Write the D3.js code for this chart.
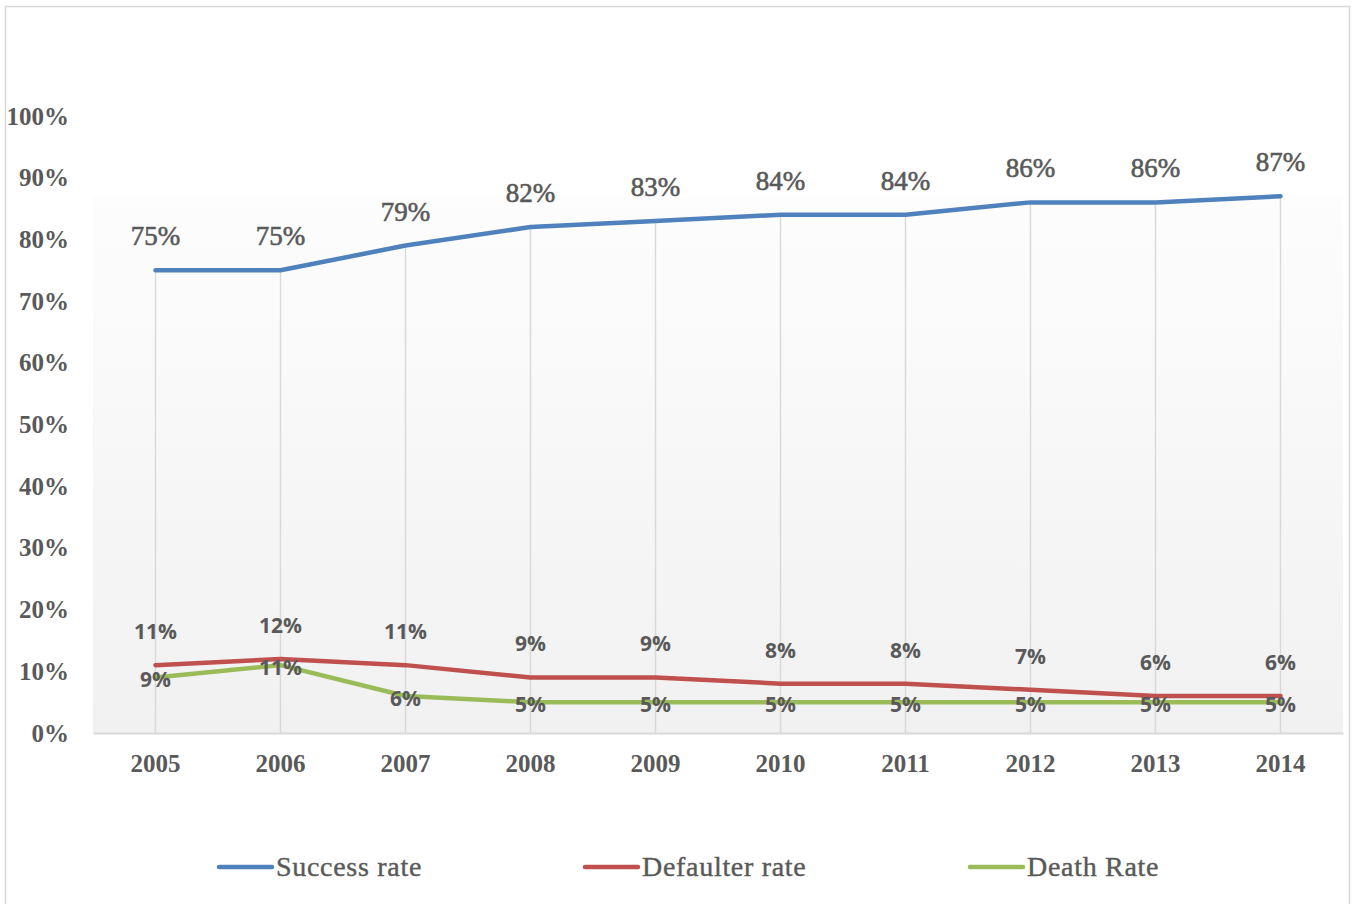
<!DOCTYPE html>
<html>
<head>
<meta charset="utf-8">
<script src="https://cdn.jsdelivr.net/npm/d3@7"></script>
<style>
  html, body { margin: 0; padding: 0; background: #fff; }
  svg { display: block; }
</style>
</head>
<body>
<svg id="chart" width="1353" height="904"></svg>
<script>
// Treatment outcome rates by year
const years = ["2005", "2006", "2007", "2008", "2009", "2010", "2011", "2012", "2013", "2014"];
const successRate = [75, 75, 79, 82, 83, 84, 84, 86, 86, 87];
const defaulterRate = [11, 12, 11, 9, 9, 8, 8, 7, 6, 6];
const deathRate = [9, 11, 6, 5, 5, 5, 5, 5, 5, 5];
const yTicks = [0, 10, 20, 30, 40, 50, 60, 70, 80, 90, 100];

const seriesList = [
  { name: "Success rate", values: successRate, color: "#4f81bd" },
  { name: "Defaulter rate", values: defaulterRate, color: "#c0504d" },
  { name: "Death Rate", values: deathRate, color: "#9bbb59" }
];

const svg = d3.select("#chart");
const textColor = "#595959";
const serif = "'Liberation Serif', 'Times New Roman', serif";
const sans = "'Open Sans', 'DejaVu Sans', sans-serif";

const plot = { left: 93, right: 1343, top: 116, bottom: 733 };

const x = d3.scaleBand().domain(years).range([plot.left, plot.right]);
const y = d3.scaleLinear().domain([0, 100]).range([plot.bottom, plot.top]);
const cx = d => x(d) + x.bandwidth() / 2;

// Outer chart frame
svg.append("rect")
  .attr("x", 5.5).attr("y", 6.5)
  .attr("width", 1344).attr("height", 910)
  .attr("fill", "#fff").attr("stroke", "#d9d9d9").attr("stroke-width", 1.5);

// Plot area with a soft vertical gradient
const defs = svg.append("defs");
const grad = defs.append("linearGradient").attr("id", "plotFill")
  .attr("x1", 0).attr("y1", 0).attr("x2", 0).attr("y2", 1);
grad.append("stop").attr("offset", "0%").attr("stop-color", "#fdfdfd");
grad.append("stop").attr("offset", "100%").attr("stop-color", "#f1f1f1");

svg.append("rect")
  .attr("x", plot.left).attr("y", 197)
  .attr("width", plot.right - plot.left).attr("height", plot.bottom - 197)
  .attr("fill", "url(#plotFill)");

// Drop lines from the top series down to the axis
svg.append("g").selectAll("line")
  .data(years)
  .join("line")
  .attr("x1", d => cx(d)).attr("x2", d => cx(d))
  .attr("y1", (d, i) => y(successRate[i]))
  .attr("y2", plot.bottom)
  .attr("stroke", "#d9d9d9").attr("stroke-width", 1.5);

// Category axis
const xAxis = svg.append("g")
  .attr("transform", `translate(0,${plot.bottom})`)
  .call(d3.axisBottom(x).tickSize(0).tickPadding(21));
xAxis.select(".domain").attr("stroke", "#d9d9d9").attr("stroke-width", 2);
xAxis.selectAll("text")
  .attr("fill", textColor)
  .style("font-family", serif).style("font-weight", "bold")
  .style("font-size", "25px");

// Value axis (labels only)
const yAxis = svg.append("g")
  .attr("transform", `translate(${plot.left},0)`)
  .call(d3.axisLeft(y).tickValues(yTicks).tickFormat(d => d + "%").tickSize(0).tickPadding(24));
yAxis.select(".domain").remove();
yAxis.selectAll("text")
  .attr("fill", textColor)
  .style("font-family", serif).style("font-weight", "bold")
  .style("font-size", "25px");

// Series lines
const line = d3.line()
  .x((d, i) => cx(years[i]))
  .y(d => y(d));

svg.append("g").selectAll("path")
  .data(seriesList.slice().reverse())
  .join("path")
  .attr("d", s => line(s.values))
  .attr("fill", "none")
  .attr("stroke", s => s.color)
  .attr("stroke-width", 4.5)
  .attr("stroke-linecap", "round")
  .attr("stroke-linejoin", "round");

// Data labels
svg.append("g").selectAll("text")
  .data(successRate)
  .join("text")
  .attr("x", (d, i) => cx(years[i]))
  .attr("y", d => y(d) - 25)
  .attr("text-anchor", "middle")
  .attr("fill", textColor)
  .attr("stroke", textColor).attr("stroke-width", 0.6)
  .style("font-family", serif)
  .style("font-size", "27px")
  .text(d => d + "%");

svg.append("g").selectAll("text")
  .data(defaulterRate)
  .join("text")
  .attr("x", (d, i) => cx(years[i]))
  .attr("y", d => y(d) - 26)
  .attr("text-anchor", "middle")
  .attr("fill", textColor)
  .style("font-family", sans).style("font-weight", "bold")
  .style("font-size", "21px")
  .text(d => d + "%");

svg.append("g").selectAll("text")
  .data(deathRate)
  .join("text")
  .attr("x", (d, i) => cx(years[i]))
  .attr("y", d => y(d) + 10)
  .attr("text-anchor", "middle")
  .attr("fill", textColor)
  .style("font-family", sans).style("font-weight", "bold")
  .style("font-size", "21px")
  .text(d => d + "%");

// Legend
const legendX = [219, 585, 970];
const legend = svg.append("g").selectAll("g")
  .data(seriesList)
  .join("g")
  .attr("transform", (d, i) => `translate(${legendX[i]},867)`);
legend.append("line")
  .attr("x1", 0).attr("x2", 53).attr("y1", 0).attr("y2", 0)
  .attr("stroke", d => d.color).attr("stroke-width", 4.5)
  .attr("stroke-linecap", "round");
legend.append("text")
  .attr("x", 57).attr("y", 9)
  .attr("fill", textColor)
  .attr("stroke", textColor).attr("stroke-width", 0.4)
  .style("font-family", serif)
  .style("font-size", "28px")
  .style("letter-spacing", "0.7px")
  .text(d => d.name);
</script>
</body>
</html>
